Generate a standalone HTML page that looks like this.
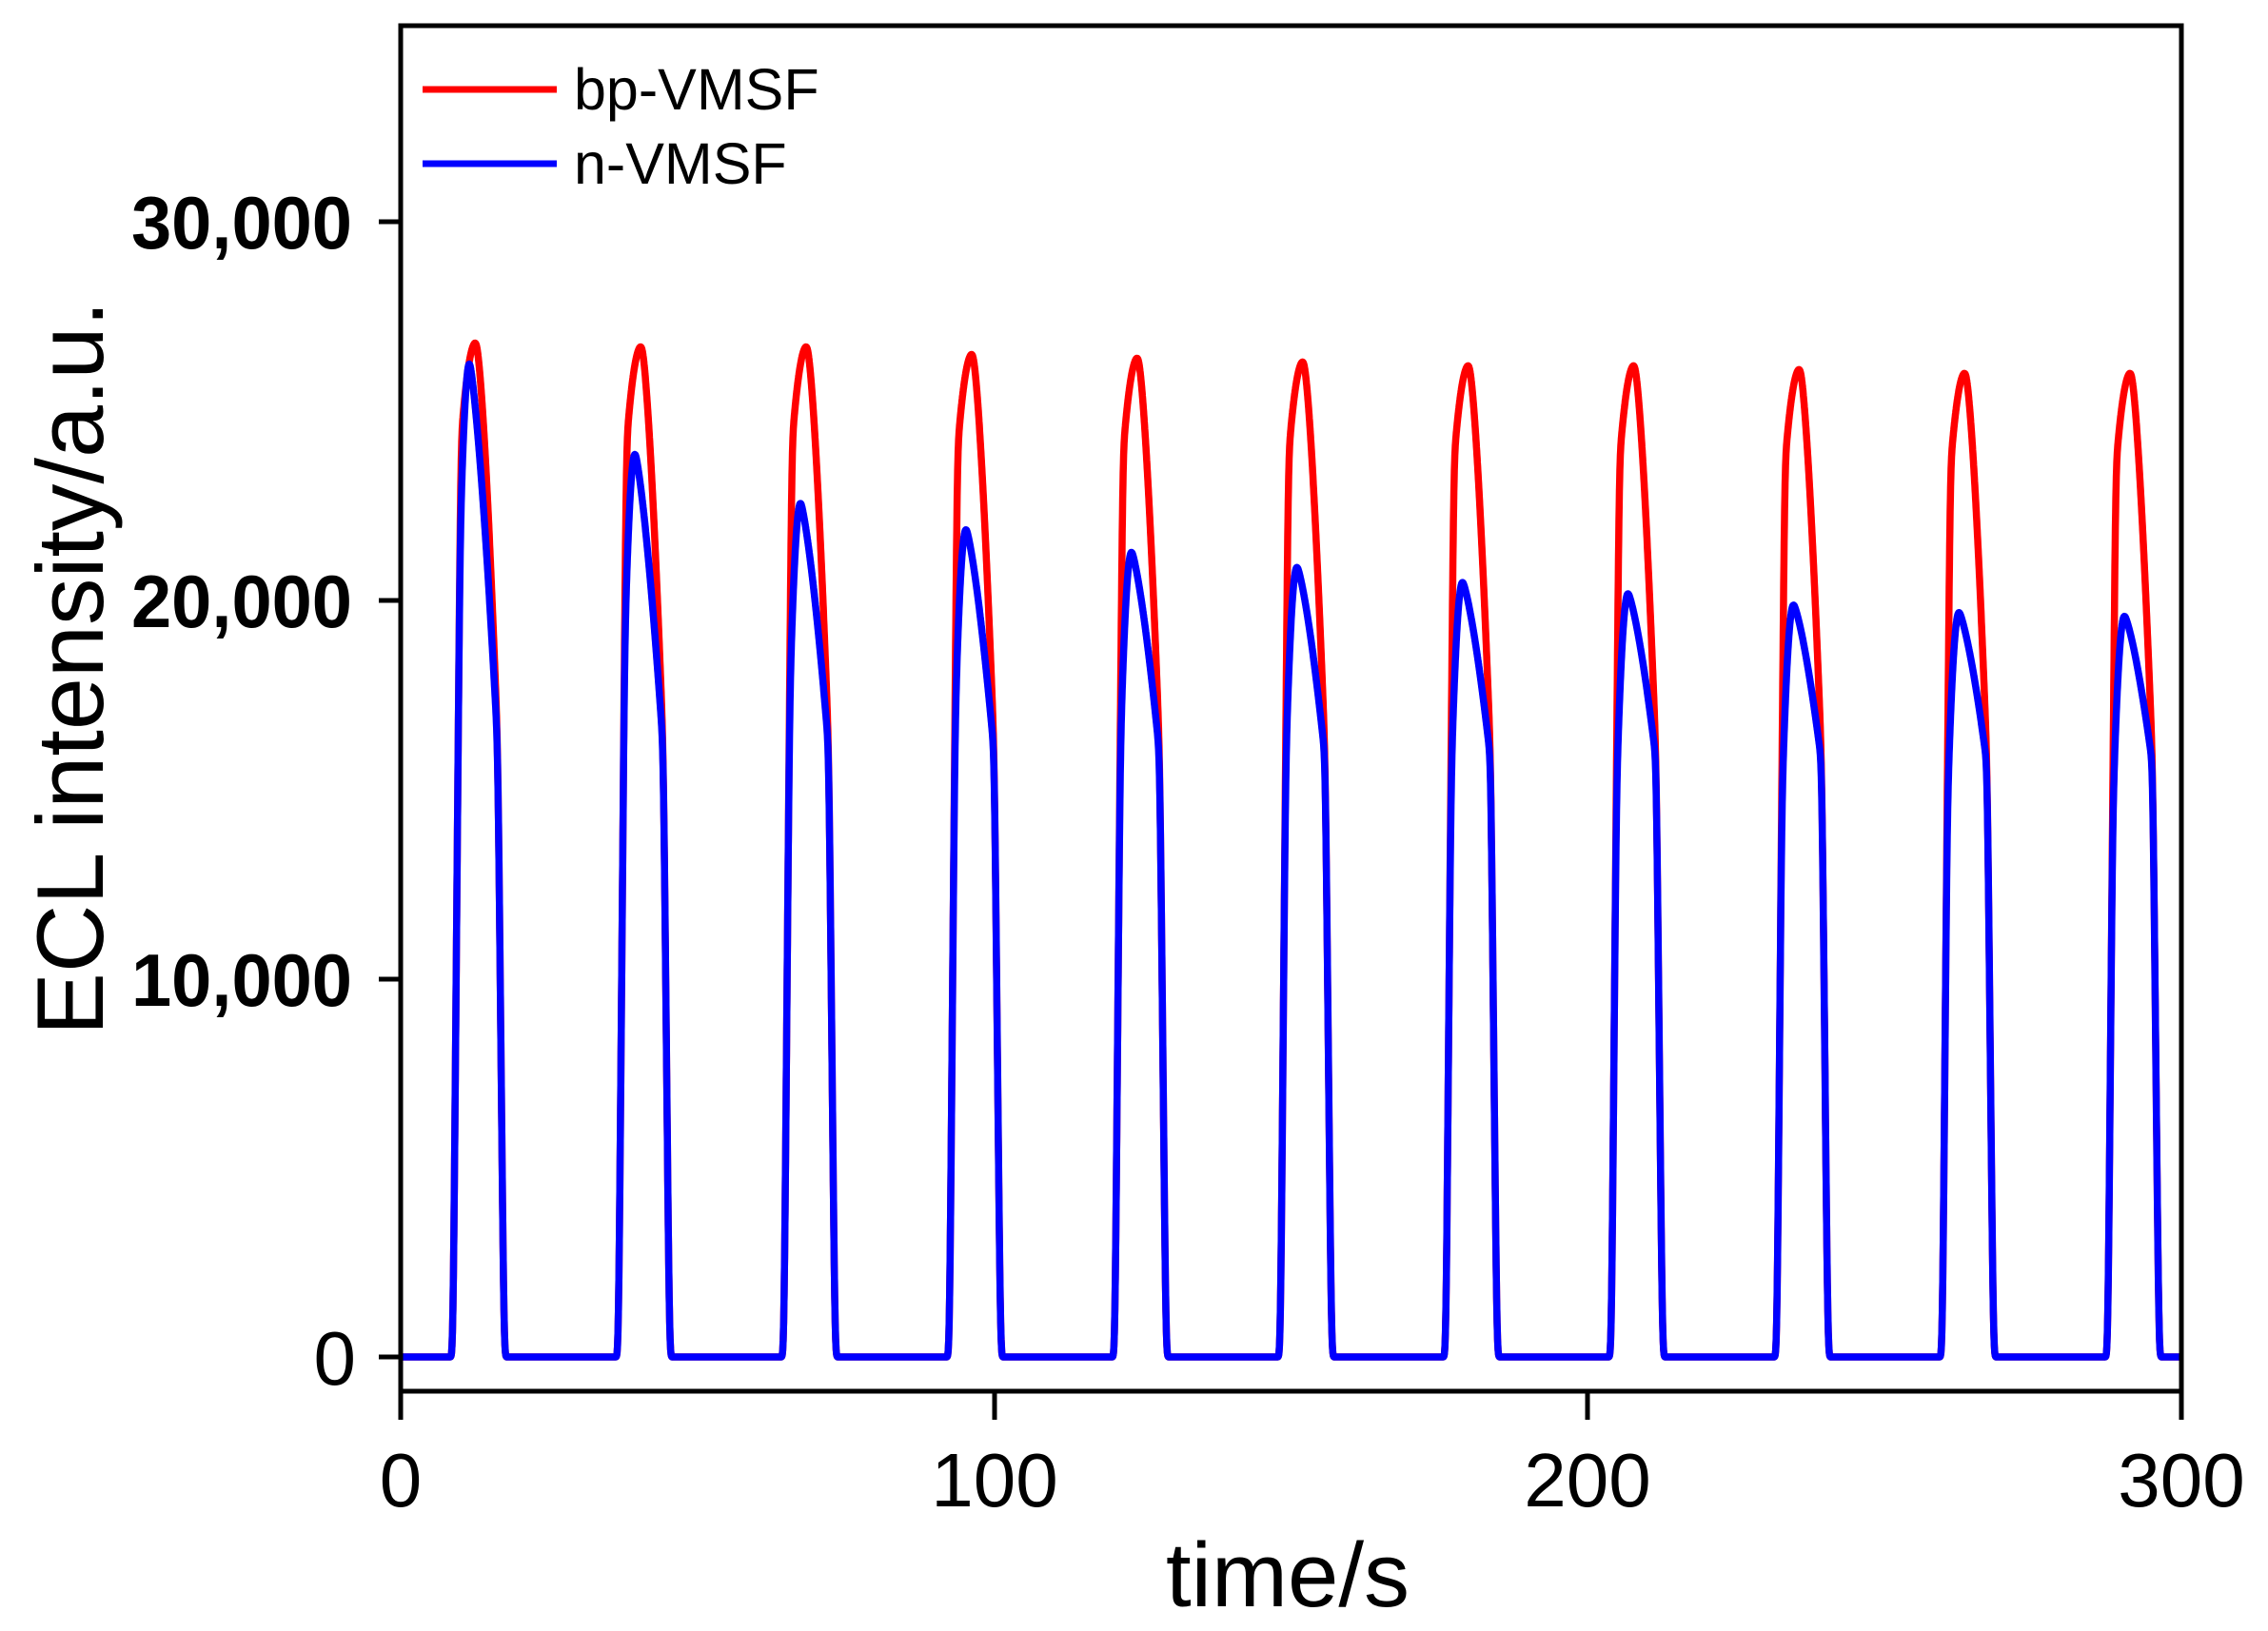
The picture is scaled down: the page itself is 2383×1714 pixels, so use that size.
<!DOCTYPE html>
<html><head><meta charset="utf-8"><style>
html,body{margin:0;padding:0;background:#fff;}
svg{display:block;}
text{font-family:"Liberation Sans",Arial,sans-serif;fill:#000;}
</style></head><body>
<svg id="s" width="2383" height="1714" viewBox="0 0 2383 1714" xmlns="http://www.w3.org/2000/svg">
<rect width="2383" height="1714" fill="#fff"/>
<path id="red" fill="none" stroke="#ff0000" stroke-width="7.5" stroke-linejoin="round"/>
<path id="blue" fill="none" stroke="#0000ff" stroke-width="7.5" stroke-linejoin="round"/>
<g stroke="#000" stroke-width="5" fill="none">
<rect x="421" y="27" width="1871" height="1435"/>
<line x1="421" y1="1462" x2="421" y2="1492"/>
<line x1="1045" y1="1462" x2="1045" y2="1492"/>
<line x1="1668" y1="1462" x2="1668" y2="1492"/>
<line x1="2292" y1="1462" x2="2292" y2="1492"/>
<line x1="398" y1="233" x2="421" y2="233"/>
<line x1="398" y1="631" x2="421" y2="631"/>
<line x1="398" y1="1029" x2="421" y2="1029"/>
<line x1="398" y1="1426" x2="421" y2="1426"/>
</g>
<g font-weight="bold" font-size="78" text-anchor="end">
<text x="370" y="261" textLength="232" lengthAdjust="spacingAndGlyphs">30,000</text>
<text x="370" y="659" textLength="232" lengthAdjust="spacingAndGlyphs">20,000</text>
<text x="370" y="1057" textLength="232" lengthAdjust="spacingAndGlyphs">10,000</text>
</g>
<text x="374" y="1455" font-size="80" text-anchor="end">0</text>
<g font-size="80" text-anchor="middle">
<text x="421" y="1583">0</text>
<text x="1045" y="1583">100</text>
<text x="1668" y="1583">200</text>
<text x="2292" y="1583">300</text>
</g>
<text x="1353" y="1688" font-size="96" text-anchor="middle">time/s</text>
<text transform="translate(108,702) rotate(-90)" font-size="99" text-anchor="middle">ECL intensity/a.u.</text>
<line x1="444" y1="94" x2="585" y2="94" stroke="#ff0000" stroke-width="7"/>
<line x1="444" y1="172" x2="585" y2="172" stroke="#0000ff" stroke-width="7"/>
<text x="603" y="115" font-size="61">bp-VMSF</text>
<text x="603" y="193" font-size="61">n-VMSF</text>
</svg>
<script>
(function(){
var X=function(t){return 421+t*(1871/300);};
var Y=function(v){return 1426-v*(398/10000);};
var red=[26800,26700,26700,26500,26400,26300,26200,26200,26100,26000,26000];
var blue=[26300,23900,22600,21900,21300,20900,20500,20200,19900,19700,19600];
var W=8.8,T0=8.8,P=27.88,dt=0.02,M=0.6;
function rise(u){return 0.9*u/0.15;}
function redShape(u){
  if(u<=0)return 0;
  var r=rise(u),cap;
  if(u<0.44){var a=(0.44-u)/0.29;cap=1-0.1*a*a;}
  else{var b=(u-0.44)/0.42;cap=1-(1-M)*Math.pow(b,1.5);}
  var v=Math.min(r,cap);
  if(u>0.86){v=Math.max(0,M*(1-(u-0.86)/0.12));}
  return Math.max(0,v);
}
function blueShape(u,Pr,B){
  if(u<=0)return 0;
  var r=rise(u)*Pr,cap;
  var Rm=M*Pr;
  if(u<0.32){var a=(0.32-u)/0.15;cap=B-B*0.12*a*a;}
  else if(u<=0.86){var s=(u-0.32)/0.54;cap=B-(B-Rm)*(0.35*s+0.65*Math.pow(s,1.6));}
  else return redShape(u)*Pr;
  return Math.max(0,Math.min(r,cap));
}
function build(isBlue){
  var n=Math.round(300/dt),vals=[];
  for(var k=0;k<=n;k++){
    var t=k*dt,v=0,i=Math.floor((t-T0+3)/P);
    if(i>=0&&i<11){var u=(t-T0-i*P)/W;
      if(u>0&&u<1){v=isBlue?blueShape(u,red[i],blue[i]):redShape(u)*red[i];}}
    vals.push(v);
  }
  for(var pass=0;pass<3;pass++){
    var w=8,out=[];
    for(var k=0;k<=n;k++){var s=0,c=0;for(var j=k-w;j<=k+w;j++){if(j>=0&&j<=n){s+=vals[j];c++;}}out.push(s/c);}
    vals=out;
  }
  var d='';
  for(var k=0;k<=n;k+=2){d+=(d?'L':'M')+X(k*dt).toFixed(1)+' '+Y(vals[k]).toFixed(1);}
  return d;
}
document.getElementById('red').setAttribute('d',build(false));
document.getElementById('blue').setAttribute('d',build(true));
})();
</script>
</body></html>
